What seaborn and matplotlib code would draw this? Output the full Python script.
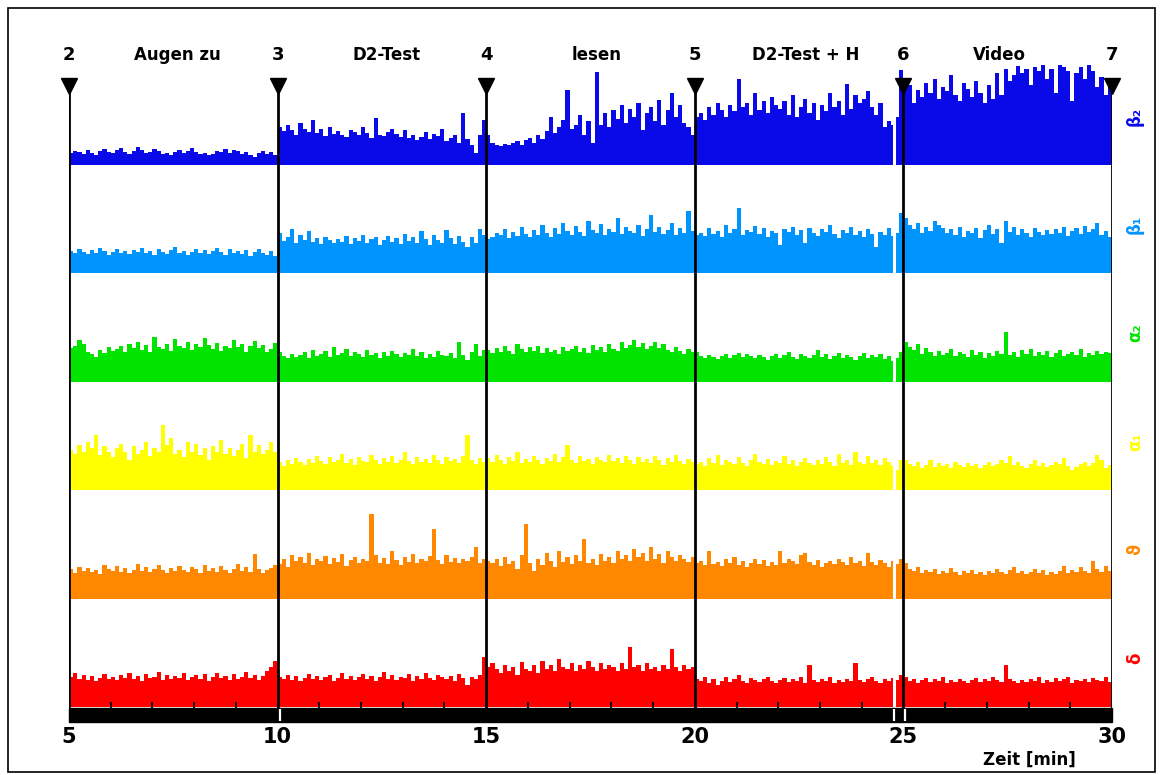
import numpy as np
import matplotlib
matplotlib.use("Agg")
import matplotlib.pyplot as plt
from matplotlib.patches import Rectangle
import seaborn as sns

sns.set_theme(style="white")
plt.rcParams["font.family"] = ["DejaVu Sans"]
plt.rcParams["font.weight"] = "bold"
plt.rcParams["text.color"] = "black"

# Zeitmarken (min) und Abschnitte
marks = [5, 10, 15, 20, 25, 30]
mark_labels = ["2", "3", "4", "5", "6", "7"]
segments = ["Augen zu", "D2-Test", "lesen", "D2-Test + H", "Video"]
seg_label_x = [7.6, 12.6, 17.65, 22.65, 27.3]
band_breaks = [24.77]
bar_breaks = [10.05, 24.77, 25.05]

# Bandleistung je Abschnitt (10 Werte pro Minute), von oben nach unten
beta2 = [
    [12, 14, 13, 11, 15, 12, 10, 14, 16, 13, 12, 15, 17, 13, 11, 14, 18, 15, 12, 13, 16, 14, 11, 12, 10,
     13, 15, 12, 14, 17, 13, 11, 12, 10, 11, 14, 13, 16, 12, 15, 14, 11, 13, 10, 8, 12, 14, 11, 13, 10],
    [38, 34, 40, 35, 30, 42, 36, 33, 45, 32, 36, 29, 38, 31, 34, 30, 28, 35, 33, 30, 38, 32, 27, 47, 30,
     29, 33, 36, 31, 28, 35, 27, 30, 25, 28, 33, 26, 31, 29, 36, 24, 27, 30, 22, 52, 26, 20, 12, 30, 45],
    [30, 22, 20, 19, 21, 20, 22, 24, 20, 25, 27, 22, 30, 26, 34, 48, 32, 38, 45, 75, 36, 40, 50, 30, 44,
     22, 93, 40, 52, 38, 55, 46, 60, 42, 56, 48, 62, 35, 52, 58, 44, 65, 40, 55, 72, 48, 60, 42, 38, 30],
    [48, 52, 45, 58, 50, 62, 55, 48, 60, 54, 86, 58, 62, 50, 72, 55, 64, 52, 68, 60, 56, 64, 50, 70, 48,
     58, 66, 52, 62, 45, 60, 54, 72, 58, 64, 50, 81, 56, 70, 62, 66, 74, 58, 50, 62, 38, 44, 40, 48, 95],
    [87, 80, 62, 75, 68, 82, 72, 86, 66, 78, 74, 90, 70, 64, 82, 76, 68, 84, 72, 62, 80, 66, 92, 70, 96,
     84, 90, 99, 92, 96, 80, 98, 94, 100, 86, 96, 72, 100, 98, 94, 64, 92, 98, 86, 100, 94, 78, 88, 70, 82],
]
beta1 = [
    [22, 20, 24, 21, 19, 23, 20, 25, 22, 18, 21, 24, 20, 22, 19, 23, 21, 25, 20, 22, 18, 24, 21, 19, 23,
     26, 20, 22, 18, 21, 24, 20, 23, 19, 22, 25, 21, 18, 24, 20, 22, 19, 23, 17, 21, 24, 20, 18, 22, 17],
    [40, 32, 36, 44, 30, 38, 33, 42, 31, 35, 29, 36, 33, 30, 34, 31, 37, 29, 35, 32, 38, 30, 34, 36, 28,
     33, 37, 31, 35, 29, 39, 32, 36, 30, 42, 34, 28, 38, 33, 30, 43, 35, 29, 37, 31, 26, 36, 30, 44, 38],
    [34, 36, 40, 38, 44, 35, 41, 37, 46, 39, 36, 43, 38, 48, 40, 36, 45, 39, 50, 42, 38, 47, 41, 37, 52,
     43, 40, 49, 38, 44, 41, 55, 39, 46, 42, 40, 48, 37, 44, 58, 41, 46, 39, 43, 50, 38, 45, 40, 62, 42],
    [38, 40, 37, 45, 39, 42, 36, 48, 40, 44, 65, 38, 43, 41, 47, 39, 45, 36, 42, 40, 28, 44, 41, 46, 38,
     43, 30, 45, 40, 37, 44, 41, 48, 39, 35, 43, 40, 46, 38, 42, 36, 44, 39, 26, 41, 38, 45, 37, 40, 60],
    [55, 48, 44, 50, 40, 46, 42, 52, 48, 45, 40, 44, 38, 46, 36, 42, 40, 45, 35, 43, 48, 39, 44, 30, 52,
     41, 46, 38, 44, 40, 36, 45, 41, 38, 43, 39, 44, 40, 46, 37, 42, 45, 39, 47, 41, 44, 50, 38, 42, 36],
]
alpha2 = [
    [34, 36, 42, 38, 30, 28, 25, 32, 29, 35, 31, 33, 36, 30, 38, 34, 40, 32, 37, 30, 45, 35, 33, 38, 31,
     43, 36, 34, 40, 32, 38, 35, 44, 37, 33, 39, 31, 36, 34, 42, 35, 38, 30, 36, 41, 34, 37, 30, 33, 39],
    [30, 26, 24, 28, 25, 27, 30, 24, 32, 26, 28, 31, 25, 35, 27, 29, 33, 26, 30, 28, 25, 32, 27, 29, 24,
     30, 26, 31, 28, 25, 29, 27, 33, 26, 30, 24, 28, 25, 31, 27, 26, 29, 24, 40, 27, 22, 30, 38, 26, 32],
    [32, 29, 34, 30, 36, 31, 28, 38, 33, 30, 35, 31, 36, 29, 34, 30, 32, 28, 35, 31, 33, 36, 30, 34, 29,
     37, 32, 35, 30, 38, 33, 31, 40, 34, 37, 42, 35, 39, 33, 36, 40, 34, 38, 32, 30, 35, 31, 28, 33, 30],
    [30, 26, 24, 27, 25, 23, 26, 28, 24, 27, 29, 25, 28, 26, 24, 27, 25, 22, 26, 28, 24, 27, 30, 25, 23,
     28, 26, 24, 27, 32, 25, 28, 23, 26, 29, 24, 27, 25, 22, 26, 29, 24, 27, 25, 28, 23, 26, 21, 24, 30],
    [40, 35, 32, 38, 28, 34, 30, 26, 31, 27, 29, 33, 26, 30, 28, 25, 32, 27, 30, 24, 29, 26, 31, 28, 50,
     27, 30, 25, 32, 28, 33, 26, 30, 27, 31, 25, 29, 32, 26, 28, 30, 27, 33, 25, 29, 27, 31, 28, 30, 29],
]
alpha1 = [
    [40, 36, 45, 38, 48, 42, 55, 35, 44, 38, 33, 42, 46, 38, 30, 44, 36, 40, 48, 34, 42, 38, 65, 45, 52,
     36, 40, 33, 48, 38, 46, 35, 42, 30, 44, 38, 50, 36, 42, 34, 40, 46, 32, 55, 38, 45, 36, 40, 48, 38],
    [28, 24, 30, 26, 32, 28, 25, 31, 27, 34, 29, 26, 33, 28, 30, 36, 27, 31, 25, 33, 29, 28, 35, 30, 26,
     32, 28, 34, 27, 30, 38, 29, 26, 33, 28, 31, 27, 35, 30, 26, 33, 29, 31, 27, 34, 55, 30, 26, 32, 28],
    [32, 28, 35, 30, 26, 33, 29, 38, 27, 31, 28, 34, 30, 26, 32, 29, 36, 28, 33, 45, 30, 27, 34, 29, 31,
     26, 33, 30, 28, 35, 29, 32, 27, 34, 30, 26, 33, 28, 31, 27, 34, 30, 25, 32, 28, 35, 29, 26, 31, 28],
    [26, 28, 24, 32, 27, 35, 25, 30, 28, 26, 33, 27, 24, 30, 36, 28, 26, 31, 25, 29, 27, 34, 26, 30, 24,
     28, 32, 27, 25, 30, 26, 33, 28, 24, 36, 27, 30, 25, 38, 28, 26, 34, 27, 30, 25, 32, 28, 24, 20, 30],
    [30, 26, 24, 28, 22, 25, 30, 23, 27, 24, 26, 22, 28, 25, 23, 27, 24, 26, 22, 25, 28, 24, 26, 30, 27,
     34, 25, 28, 24, 22, 26, 30, 24, 27, 23, 25, 28, 26, 32, 24, 20, 23, 26, 28, 24, 27, 35, 30, 22, 25],
]
theta = [
    [30, 26, 32, 28, 31, 27, 29, 25, 34, 30, 28, 33, 27, 31, 26, 29, 35, 28, 32, 27, 30, 34, 29, 26, 31,
     28, 33, 29, 27, 32, 30, 26, 34, 28, 31, 27, 33, 29, 26, 30, 35, 28, 32, 27, 45, 30, 26, 29, 31, 34],
    [35, 40, 32, 44, 38, 42, 36, 46, 34, 40, 38, 43, 35, 41, 37, 45, 33, 39, 42, 36, 40, 38, 85, 44, 36,
     41, 35, 48, 39, 34, 42, 37, 45, 36, 40, 38, 43, 70, 39, 35, 44, 37, 41, 36, 40, 38, 42, 52, 36, 40],
    [38, 36, 40, 33, 42, 35, 38, 30, 44, 75, 36, 28, 40, 34, 46, 38, 32, 48, 37, 42, 35, 44, 38, 60, 36,
     40, 34, 45, 38, 42, 36, 48, 40, 44, 38, 50, 42, 46, 38, 52, 40, 45, 36, 48, 42, 38, 44, 40, 37, 42],
    [36, 38, 34, 48, 35, 37, 33, 40, 36, 42, 34, 38, 32, 36, 40, 35, 39, 33, 37, 34, 48, 36, 40, 38, 35,
     44, 46, 37, 34, 39, 32, 36, 38, 35, 40, 37, 34, 42, 36, 38, 33, 46, 37, 34, 39, 36, 32, 38, 35, 40],
    [36, 30, 28, 32, 26, 29, 27, 30, 25, 28, 26, 31, 27, 24, 28, 26, 29, 25, 27, 24, 28, 26, 30, 27, 25,
     29, 32, 26, 28, 25, 27, 30, 26, 29, 24, 27, 25, 28, 33, 26, 29, 27, 32, 28, 26, 38, 30, 27, 33, 28],
]
delta = [
    [30, 34, 28, 32, 27, 31, 26, 29, 33, 28, 30, 27, 32, 29, 34, 28, 31, 26, 33, 29, 30, 35, 27, 32, 28,
     31, 29, 34, 27, 30, 32, 28, 33, 26, 30, 34, 29, 31, 27, 33, 28, 30, 35, 29, 32, 27, 31, 36, 40, 46],
    [30, 28, 32, 27, 31, 26, 29, 33, 28, 31, 27, 30, 32, 26, 29, 34, 28, 31, 27, 30, 33, 28, 31, 26, 30,
     35, 28, 32, 27, 30, 29, 33, 26, 31, 28, 34, 29, 27, 32, 30, 28, 31, 26, 33, 29, 22, 30, 28, 32, 50],
    [40, 44, 38, 34, 42, 36, 40, 32, 45, 38, 36, 42, 34, 46, 38, 42, 36, 48, 40, 38, 44, 36, 42, 38, 46,
     40, 36, 44, 38, 42, 40, 36, 44, 38, 60, 40, 42, 36, 44, 38, 40, 36, 42, 38, 58, 40, 36, 42, 38, 40],
    [28, 26, 30, 24, 28, 22, 26, 30, 25, 28, 32, 26, 24, 29, 27, 25, 28, 30, 26, 24, 27, 29, 25, 28, 26,
     30, 24, 42, 27, 25, 28, 26, 30, 24, 27, 25, 28, 26, 44, 27, 25, 28, 30, 26, 24, 28, 26, 29, 27, 32],
    [30, 26, 28, 24, 27, 29, 25, 28, 26, 30, 24, 27, 25, 28, 26, 24, 27, 29, 25, 28, 26, 30, 27, 25, 42,
     28, 26, 24, 27, 25, 28, 26, 30, 24, 27, 25, 29, 26, 28, 30, 24, 27, 26, 28, 25, 29, 27, 26, 30, 25],
]

bands = [beta2, beta1, alpha2, alpha1, theta, delta]
band_names = ["β₂", "β₁", "α₂", "α₁", "ϑ", "δ"]
band_colors = ["#0a0ae8", "#0094ff", "#00e400", "#ffff00", "#ff8800", "#ff0000"]

W, H = 1163, 775
fig = plt.figure(figsize=(W / 100, H / 100), dpi=100)
fig.patch.set_facecolor("white")

x0, x1 = 69 / W, 1112 / W
pitch = 108.4
base_delta = 707

for k, (segs, name, col) in enumerate(zip(bands, band_names, band_colors)):
    base = base_delta - (5 - k) * pitch
    ax = fig.add_axes([x0, 1 - base / H, x1 - x0, pitch / H])
    edges, centers, weights = [], [], []
    for s, vals in enumerate(segs):
        e = np.linspace(marks[s], marks[s + 1], len(vals) + 1)
        edges.extend(e[:-1] if s < len(segs) - 1 else e)
        centers.extend((e[:-1] + e[1:]) / 2)
        weights.extend(vals)
    sns.histplot(x=centers, weights=weights, bins=edges, element="step", fill=True,
                 color=col, alpha=1, linewidth=0, ax=ax)
    ax.set_xlim(marks[0], marks[-1])
    ax.set_ylim(0, pitch)
    ax.axis("off")
    ax.text(1.022, 0.45, name, transform=ax.transAxes, rotation=90, color=col,
            fontsize=12, fontweight="bold", ha="center", va="center")

# Overlay in Pixelhöhe (von unten)
ov = fig.add_axes([x0, 0, x1 - x0, 1])
ov.set_xlim(marks[0], marks[-1])
ov.set_ylim(0, H)
ov.patch.set_alpha(0)
ov.axis("off")

for b in band_breaks:
    ov.vlines(b, H - base_delta, H - 60, color="white", lw=2.2, zorder=2)

ov.vlines(marks, H - 708, H - 78, color="black", lw=2.0, zorder=3)
ov.plot(marks, [H - 86] * len(marks), linestyle="none", marker="v", ms=11,
        color="black", zorder=4, clip_on=False)
for m, lab in zip(marks, mark_labels):
    ov.text(m, H - 55, lab, ha="center", va="center", fontsize=13, fontweight="bold")
for sx, lab in zip(seg_label_x, segments):
    ov.text(sx, H - 55, lab, ha="center", va="center", fontsize=12, fontweight="bold")

# schwarze Zeitachse
ov.add_patch(Rectangle((marks[0], H - 722), marks[-1] - marks[0], 14, color="black",
                       zorder=3, clip_on=False))
ov.vlines(range(marks[0], marks[-1] + 1), H - 708, H - 702, color="black", lw=1.3, zorder=3)
ov.vlines(bar_breaks, H - 721, H - 709, color="white", lw=1.6, zorder=4)
for m in marks:
    ov.text(m, H - 737, str(m), ha="center", va="center", fontsize=15, fontweight="bold")
ov.text(28.03, H - 760, "Zeit [min]", ha="center", va="center", fontsize=12, fontweight="bold")

# Rahmen
fig.add_artist(Rectangle((8 / W, 3 / H), 1147 / W, 764 / H, transform=fig.transFigure,
                         fill=False, edgecolor="black", lw=1.2))

fig.savefig("out.png", dpi=100)
